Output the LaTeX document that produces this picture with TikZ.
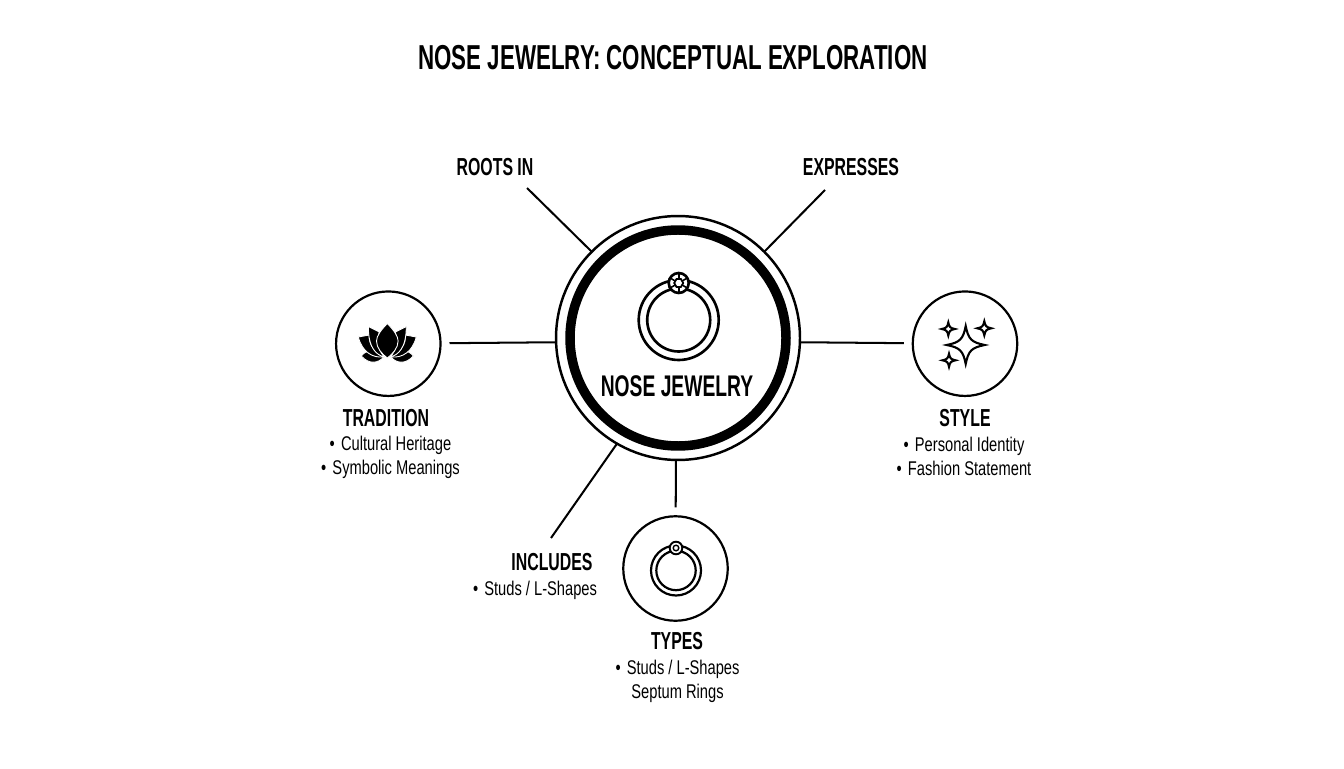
\documentclass[tikz,border=0pt]{standalone}
\usepackage{fontspec}
\setmainfont{Liberation Sans}[FakeStretch=0.74,BoldFeatures={FakeStretch=0.645}]
\usetikzlibrary{positioning}

\newcommand{\itm}{•\hspace{3.5pt}}

\tikzset{
	hub/.style={circle,draw,line width=1.4pt,minimum size=4.88cm,outer sep=0pt},
	badge/.style={circle,draw,line width=1.25pt,minimum size=2.09cm,outer sep=0pt},
	link/.style={line width=1.15pt},
	linkgap/.style={link,shorten >=5.1pt},
	band/.style={line width=5.4pt},
	hoop/.style={line width=1.5pt},
	petal/.style={fill=black,draw=white,line width=0.5pt,line join=round},
	glint/.style={line width=1.2pt,line join=miter},
	heading/.style={font=\fontsize{14}{16}\selectfont\bfseries},
	bullets/.style={font=\fontsize{11.3}{13.6}\selectfont,align=center}
}

\begin{document}
\begin{tikzpicture}[x=0.02cm,y=0.02cm]
	\useasboundingbox (0,0) rectangle (1344,768);

	% title
	\node (title) at (673,710){\fontsize{19.7}{22}\selectfont\bfseries NOSE JEWELRY: CONCEPTUAL EXPLORATION};

	% centre
	\node[hub] (main) at (678,430){};
	\draw[band] (main) circle (108);
	\draw[hoop] (678.7,448) circle (40);
	\draw[hoop] (678.7,448) circle (31.5);
	\draw[hoop,fill=white] (678.7,485) circle (10);
	\draw[line width=1pt] (678.7,485) ++(0:4.5) -- ++(120:4.5) -- ++(180:4.5) -- ++(240:4.5) -- ++(300:4.5) -- ++(0:4.5) -- cycle;
	\foreach \ang in {30,90,150,210,270,330}
		\draw[line width=0.9pt] (678.7,485) ++(\ang:3.9) -- ++(\ang:6);
	\node[font=\fontsize{17}{20}\selectfont\bfseries] (mainlabel) at (677,382){NOSE JEWELRY};

	% badges
	\node[badge] (tradition) at (388.3,424.3){};
	\node[badge] (style) at (965,424.3){};
	\node[badge] (types) at (675.5,199.5){};

	% lotus
	\foreach \side in {-1,1} {
		\begin{scope}[shift={(387.3,0)},xscale=\side]
			\draw[petal] (-26,412) .. controls (-21,419) and (-12,418) .. (-4,410.5) .. controls (-9,405) and (-18,403) .. cycle;
			\draw[petal] (-29,431) -- (-18,433) .. controls (-19,424) and (-13,416) .. (-4,411) .. controls (-15,410) and (-25,416) .. cycle;
			\draw[petal] (-19,441.5) -- (-8,436) .. controls (-11,426) and (-9,418) .. (-3,411) .. controls (-11,413) and (-19,420) .. cycle;
		\end{scope}
	}
	\draw[petal] (387.3,444.5) .. controls (381,438) and (376.5,432) .. (376.5,427) .. controls (376.5,420) and (382,414) .. (387.3,410) .. controls (392.6,414) and (398.1,420) .. (398.1,427) .. controls (398.1,432) and (393.6,438) .. cycle;

	% sparkles
	\foreach \sx/\sy/\sr in {965.7/423/19,948.3/439/6.5,984.3/439.7/7,949/407.7/6.5}
		\draw[glint] (\sx,\sy+\sr) .. controls (\sx+0.14*\sr,\sy+0.3*\sr) and (\sx+0.3*\sr,\sy+0.14*\sr) .. (\sx+\sr,\sy)
			.. controls (\sx+0.3*\sr,\sy-0.14*\sr) and (\sx+0.14*\sr,\sy-0.3*\sr) .. (\sx,\sy-\sr)
			.. controls (\sx-0.14*\sr,\sy-0.3*\sr) and (\sx-0.3*\sr,\sy-0.14*\sr) .. (\sx-\sr,\sy)
			.. controls (\sx-0.3*\sr,\sy+0.14*\sr) and (\sx-0.14*\sr,\sy+0.3*\sr) .. cycle;

	% small ring
	\draw[line width=1.25pt] (676,197.5) circle (25);
	\draw[line width=1.25pt] (676,197.5) circle (19.7);
	\draw[line width=1.1pt,fill=white] (676,220) circle (6.3);
	\draw[line width=0.8pt] (676,220) circle (2.8);

	% connectors
	\coordinate (rootsend) at (527,580);
	\coordinate (expressend) at (825,578);
	\coordinate (includesend) at (551,230);
	\draw[link] (main.135) -- (rootsend);
	\draw[link] (main.45) -- (expressend);
	\draw[link] (main.240.7) -- (includesend);
	\draw[linkgap] (main.182.3) -- (tradition);
	\draw[linkgap] (main.-2.3) -- (style);
	\draw[linkgap] (main.269) -- (types);

	% labels
	\node[heading] (roots) at (495,601){ROOTS IN};
	\node[heading] (expresses) at (851,601){EXPRESSES};
	\node[heading] (traditionlabel) at (386,350){TRADITION};
	\node[bullets] (traditionlist) at (390.5,311){\itm Cultural Heritage\\\itm Symbolic Meanings};
	\node[heading] (stylelabel) at (965,350){STYLE};
	\node[bullets] (stylelist) at (964,312){\itm Personal Identity\\\itm Fashion Statement};
	\node[heading] (includes) at (552,206){INCLUDES};
	\node[bullets] (includeslist) at (535,178){\itm Studs / L-Shapes};
	\node[heading] (typeslabel) at (677,127){TYPES};
	\node[bullets] (typeslist) at (677.5,87){\itm Studs / L-Shapes\\Septum Rings};
\end{tikzpicture}
\end{document}
